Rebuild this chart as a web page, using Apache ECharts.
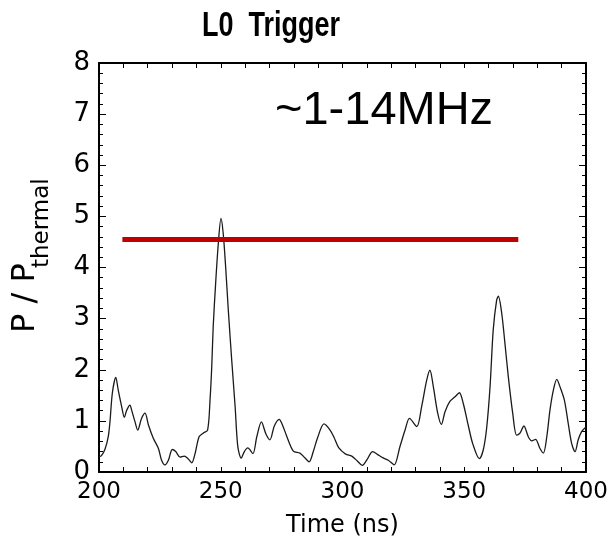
<!DOCTYPE html>
<html>
<head>
<meta charset="utf-8">
<script src="https://cdn.jsdelivr.net/npm/echarts@6/dist/echarts.min.js"></script>
<style>html,body{margin:0;padding:0;background:#fff;}#chart{width:612px;height:538px;}</style>
</head>
<body>
<div id="chart"></div>
<script>
// Trace: time (ns) and P / P_thermal
const times = [200,201,202.5,203.8,204.5,205.5,206.9,207.9,209.3,210.4,211.4,212.7,213.4,214.8,215.9,217.5,218.9,220.3,222.3,224.4,225.7,227.1,228.5,230.1,231.5,233.3,235.0,236.4,238.1,239.4,241.1,242.8,244.6,245.6,246.3,246.9,247.9,249.0,250.1,251.0,252.0,253.1,254.5,255.9,257.0,258.4,259.7,261.1,263.2,264.8,266.7,268.5,270.2,272.0,274.0,275.5,277.1,279.8,282.5,284.5,286.3,288.0,289.7,292.4,294.9,296.5,298.5,301.3,303.8,306.0,308.1,309.9,312.4,314.5,316.5,318.8,321.2,323.6,325.7,327.5,330.5,332.5,334.6,335.9,337.3,339.1,340.6,342.1,344.1,346.2,348.0,349.6,351.7,353.5,356.2,357.8,359.2,360.6,361.9,363.3,364.0,365.4,366.7,368.1,369.9,371.5,372.9,374.5,376.3,377.7,379.3,381.1,382.5,383.9,385.2,386.6,388.0,389.3,391.1,392.7,394.1,395.5,396.8,398.2,400];
const values = [0.30,0.32,0.45,0.69,0.98,1.55,1.85,1.60,1.28,1.07,1.21,1.31,1.21,0.98,0.82,1.05,1.15,0.92,0.66,0.46,0.23,0.14,0.23,0.44,0.40,0.29,0.31,0.27,0.18,0.35,0.69,0.76,0.82,1.41,2.06,2.84,3.69,4.47,4.96,4.67,4.02,3.17,2.19,1.28,0.50,0.27,0.40,0.47,0.36,0.69,0.98,0.75,0.63,0.90,1.03,0.90,0.70,0.41,0.37,0.28,0.20,0.40,0.66,0.94,0.82,0.68,0.47,0.35,0.31,0.22,0.13,0.23,0.40,0.34,0.28,0.23,0.14,0.50,0.82,1.05,0.89,1.28,1.80,1.99,1.67,1.15,0.93,1.18,1.38,1.47,1.55,1.34,0.90,0.55,0.26,0.43,0.86,1.67,2.78,3.36,3.44,3.10,2.52,1.86,1.15,0.72,0.76,0.90,0.69,0.61,0.64,0.46,0.37,0.69,1.21,1.60,1.81,1.67,1.41,0.95,0.56,0.40,0.63,0.79,0.88];
// Threshold bar
const thresholdTimes = [209.6, 372.2];
const thresholdLevel = 4.55;
// Axis ranges
const xRange = [200, 400];
const yRange = [0, 8];

const chart = echarts.init(document.getElementById('chart'), null, {renderer: 'canvas'});
const trace = times.map((t, i) => [t, values[i]]);
const bar = thresholdTimes.map(t => [t, thresholdLevel]);

const lineAxis = {show: true, onZero: false, lineStyle: {color: '#000', width: 2}};
const xBase = {
  type: 'value', min: xRange[0], max: xRange[1], interval: 50,
  axisLine: lineAxis,
  axisTick: {show: true, inside: true, length: 5, lineStyle: {color: '#000', width: 1}},
  minorTick: {show: true, splitNumber: 5, length: 5, lineStyle: {color: '#000', width: 1}},
  splitLine: {show: false}, minorSplitLine: {show: false}
};
const yBase = {
  type: 'value', min: yRange[0], max: yRange[1], interval: 1,
  axisLine: lineAxis,
  axisTick: {show: true, inside: true, length: 7, lineStyle: {color: '#000', width: 1}},
  minorTick: {show: true, splitNumber: 5, length: 4, lineStyle: {color: '#000', width: 1}},
  splitLine: {show: false}, minorSplitLine: {show: false}
};

chart.setOption({
  animation: false,
  backgroundColor: '#fff',
  grid: {left: 99, right: 26, top: 63, bottom: 66, containLabel: false, outerBoundsMode: 'none'},
  xAxis: [
    Object.assign({}, xBase, {
      position: 'bottom',
      axisLabel: {fontFamily: 'DejaVu Sans', fontSize: 23, color: '#000', margin: 9},
      name: 'Time (ns)', nameLocation: 'middle', nameGap: 42,
      nameTextStyle: {fontFamily: 'DejaVu Sans', fontSize: 24, color: '#000'}
    }),
    Object.assign({}, xBase, {position: 'top', axisLabel: {show: false}})
  ],
  yAxis: [
    Object.assign({}, yBase, {
      position: 'left',
      axisLabel: {fontFamily: 'DejaVu Sans', fontSize: 26, color: '#000', margin: 9}
    }),
    Object.assign({}, yBase, {position: 'right', axisLabel: {show: false}})
  ],
  series: [
    {
      type: 'line', data: trace, showSymbol: false, smooth: 0.3,
      lineStyle: {color: '#1a1a1a', width: 1.3}, z: 3
    },
    {
      type: 'line', data: bar, showSymbol: false,
      lineStyle: {color: '#C00000', width: 5, cap: 'butt'}, z: 4
    }
  ],
  graphic: [
    {type: 'text', x: 271, y: 26, scaleY: 1.3, style: {text: 'L0  Trigger', fontFamily: '"Liberation Sans", sans-serif', fontWeight: 'bold', fontSize: 27, fill: '#000', align: 'center', verticalAlign: 'middle'}},
    {type: 'text', x: 275, y: 111, style: {text: '~1-14MHz', fontFamily: '"Liberation Sans", sans-serif', fontSize: 47, fill: '#000', align: 'left', verticalAlign: 'middle'}},
    {type: 'text', x: 26, y: 333, rotation: Math.PI / 2, style: {text: 'P / P', fontFamily: 'DejaVu Sans', fontSize: 32, fill: '#000', align: 'left', verticalAlign: 'middle'}},
    {type: 'text', x: 42, y: 268, rotation: Math.PI / 2, style: {text: 'thermal', fontFamily: 'DejaVu Sans', fontSize: 23, fill: '#000', align: 'left', verticalAlign: 'middle'}}
  ]
});
</script>
</body>
</html>
